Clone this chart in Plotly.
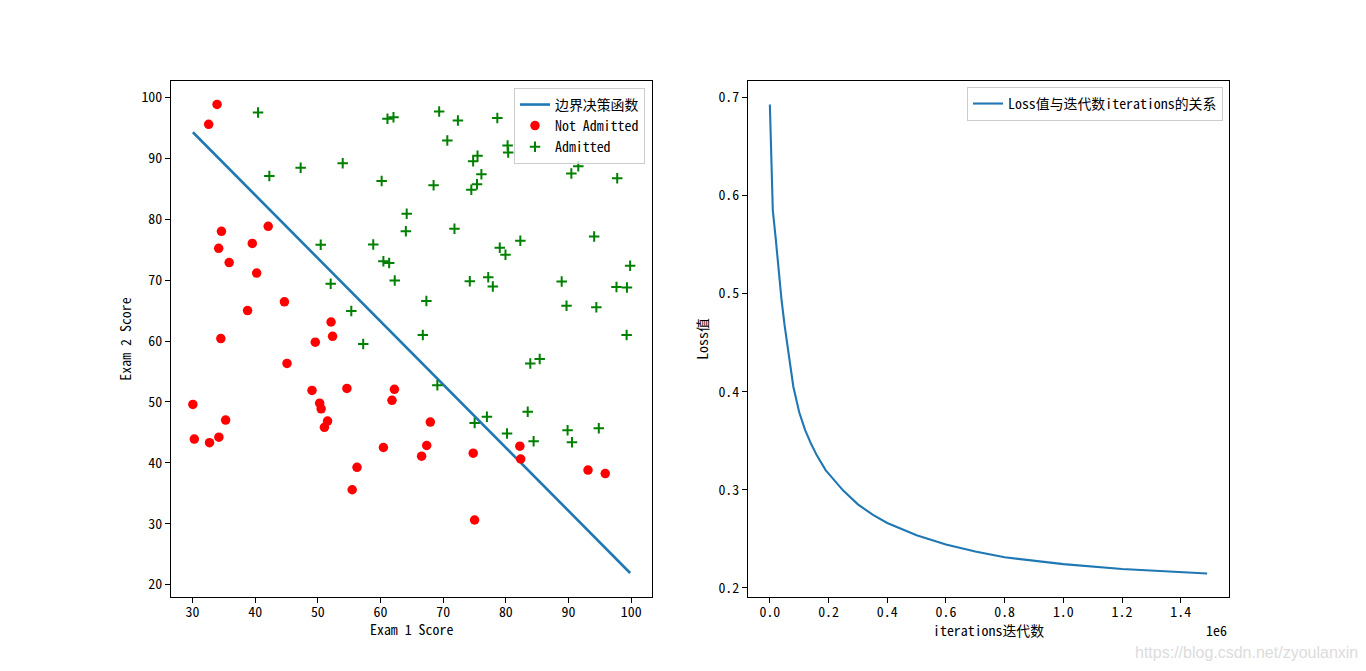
import plotly.graph_objects as go

# ---------------- data ----------------
exam1 = [34.62, 30.29, 35.85, 60.18, 79.03, 45.08, 61.11, 75.02, 76.10, 84.43,
         95.86, 75.01, 82.31, 69.36, 39.54, 53.97, 69.07, 67.95, 70.66, 76.98,
         67.37, 89.68, 50.53, 34.21, 77.92, 62.27, 80.19, 93.11, 61.83, 38.79,
         61.38, 85.40, 52.11, 52.05, 40.24, 54.64, 33.92, 64.18, 74.79, 34.18,
         83.90, 51.55, 94.44, 82.37, 51.05, 62.22, 77.19, 97.77, 62.07, 91.56,
         79.94, 99.27, 90.55, 34.52, 50.29, 49.59, 97.65, 32.58, 74.25, 71.80,
         75.40, 35.29, 56.25, 30.06, 44.67, 66.56, 40.46, 49.07, 80.28, 66.75,
         32.72, 64.04, 72.35, 60.46, 58.84, 99.83, 47.26, 50.46, 60.46, 82.23,
         88.91, 94.83, 67.32, 57.24, 80.37, 68.47, 42.08, 75.48, 78.64, 52.35,
         94.09, 90.45, 55.48, 74.49, 89.85, 83.49, 42.26, 99.32, 55.34, 74.78]
exam2 = [78.02, 43.89, 72.90, 86.31, 75.34, 56.32, 96.51, 46.55, 87.42, 43.53,
         38.23, 30.60, 76.48, 97.72, 76.04, 89.21, 52.74, 46.68, 92.93, 47.58,
         42.84, 65.80, 48.86, 44.21, 68.97, 69.95, 44.82, 38.80, 50.26, 65.00,
         72.81, 57.05, 63.13, 69.43, 71.17, 52.21, 98.87, 80.91, 41.57, 75.24,
         56.31, 46.86, 65.57, 40.62, 45.82, 52.06, 70.46, 86.73, 96.77, 88.70,
         74.16, 61.00, 43.39, 60.40, 49.80, 59.81, 68.86, 95.60, 69.82, 78.45,
         85.76, 47.02, 39.26, 49.59, 66.45, 41.09, 97.54, 51.88, 92.12, 60.99,
         43.31, 78.03, 96.23, 73.09, 75.86, 72.37, 88.48, 75.81, 42.51, 42.72,
         69.80, 45.69, 66.59, 59.51, 90.96, 85.59, 78.84, 90.42, 96.65, 60.77,
         77.16, 87.51, 35.57, 84.85, 45.36, 48.38, 87.10, 68.78, 64.93, 89.53]
admitted = [0, 0, 0, 1, 1, 0, 1, 1, 1, 1,
            0, 0, 1, 1, 0, 1, 1, 0, 1, 1,
            0, 1, 0, 0, 1, 1, 1, 0, 0, 0,
            1, 1, 0, 1, 0, 0, 0, 1, 0, 0,
            1, 0, 1, 0, 0, 0, 1, 1, 1, 1,
            1, 1, 1, 0, 0, 0, 1, 0, 1, 1,
            1, 0, 0, 0, 0, 0, 1, 0, 1, 1,
            0, 1, 1, 1, 1, 1, 1, 1, 0, 0,
            1, 1, 1, 1, 1, 1, 0, 1, 1, 0,
            1, 1, 0, 1, 1, 1, 1, 1, 1, 1]

boundary_x = [30.06, 99.83]
boundary_y = [94.3, 21.9]

iterations = [0, 10000, 20000, 30000, 40000, 50000, 60000, 70000, 80000, 100000,
              120000, 140000, 160000, 190000, 220000, 250000, 300000, 350000,
              400000, 500000, 600000, 700000, 800000, 1000000, 1200000,
              1400000, 1490000]
loss = [0.693, 0.585, 0.556, 0.523, 0.493, 0.468, 0.446, 0.425, 0.405, 0.379,
        0.361, 0.347, 0.335, 0.320, 0.309, 0.299, 0.285, 0.2745,
        0.266, 0.2535, 0.244, 0.237, 0.231, 0.224, 0.219,
        0.216, 0.2144]

left_xticks = [30, 40, 50, 60, 70, 80, 90, 100]
left_yticks = [20, 30, 40, 50, 60, 70, 80, 90, 100]
right_yticks = [0.2, 0.3, 0.4, 0.5, 0.6, 0.7]
right_ytext = ["0.2", "0.3", "0.4", "0.5", "0.6", "0.7"]
right_xticks = [0, 200000, 400000, 600000, 800000, 1000000, 1200000, 1400000]
right_xtext = ["0.0", "0.2", "0.4", "0.6", "0.8", "1.0", "1.2", "1.4"]

# ---------------- figure ----------------
FONT = "Noto Sans Mono CJK SC, SimHei, Noto Sans CJK SC, DejaVu Sans Mono"
FS = 13.9
W, H = 1358, 663

neg_x = [x for x, a in zip(exam1, admitted) if a == 0]
neg_y = [y for y, a in zip(exam2, admitted) if a == 0]
pos_x = [x for x, a in zip(exam1, admitted) if a == 1]
pos_y = [y for y, a in zip(exam2, admitted) if a == 1]

fig = go.Figure()
fig.add_trace(go.Scatter(x=boundary_x, y=boundary_y, mode="lines",
                         line=dict(color="#1f77b4", width=2.6),
                         name="边界决策函数", xaxis="x", yaxis="y", legend="legend"))
fig.add_trace(go.Scatter(x=neg_x, y=neg_y, mode="markers",
                         marker=dict(color="red", size=9.5, symbol="circle"),
                         name="Not Admitted", xaxis="x", yaxis="y", legend="legend"))
fig.add_trace(go.Scatter(x=pos_x, y=pos_y, mode="markers",
                         marker=dict(color="green", size=7.5, symbol="cross-thin",
                                     line=dict(color="green", width=2)),
                         name="Admitted", xaxis="x", yaxis="y", legend="legend"))
fig.add_trace(go.Scatter(x=iterations, y=loss, mode="lines",
                         line=dict(color="#1f77b4", width=2.1),
                         name="Loss值与迭代数iterations的关系",
                         xaxis="x2", yaxis="y2", legend="legend2"))

axis_common = dict(showline=True, mirror=True, linecolor="black", linewidth=1,
                   ticks="outside", ticklen=5, tickwidth=1, tickcolor="black",
                   showgrid=False, zeroline=False,
                   tickfont=dict(family=FONT, size=FS, color="black"))

fig.update_layout(
    width=W, height=H,
    margin=dict(l=0, r=0, t=0, b=0),
    paper_bgcolor="white", plot_bgcolor="white",
    font=dict(family=FONT, size=FS, color="black"),
    xaxis=dict(domain=[163 / W, 644 / W], range=[26.57, 103.32], anchor="y",
               tickvals=left_xticks, ticklabelstandoff=-3,
               **axis_common),
    yaxis=dict(domain=[1 - 589 / H, 1 - 73 / H], range=[17.95, 102.72], anchor="x",
               tickvals=left_yticks,
               title=dict(text="Exam 2 Score", standoff=6,
                          font=dict(family=FONT, size=FS)),
               **axis_common),
    xaxis2=dict(domain=[740 / W, 1221 / W], range=[-74500, 1564500], anchor="y2",
                tickvals=right_xticks, ticktext=right_xtext, ticklabelstandoff=-3,
                **axis_common),
    yaxis2=dict(domain=[1 - 589 / H, 1 - 73 / H], range=[0.1905, 0.7169], anchor="x2",
                tickvals=right_yticks, ticktext=right_ytext,
                title=dict(text="Loss值", standoff=6,
                           font=dict(family=FONT, size=FS)),
                **axis_common),
    legend=dict(x=637 / W, y=1 - 80 / H, xanchor="right", yanchor="top",
                bgcolor="rgba(255,255,255,0.8)", bordercolor="#cccccc",
                borderwidth=1, font=dict(family=FONT, size=FS),
                tracegroupgap=0, itemwidth=30),
    legend2=dict(x=1215 / W, y=1 - 79 / H, xanchor="right", yanchor="top",
                 bgcolor="rgba(255,255,255,0.8)", bordercolor="#cccccc",
                 borderwidth=1, font=dict(family=FONT, size=FS), itemwidth=30),
    annotations=[
        dict(text="Exam 1 Score", xref="paper", yref="paper",
             x=(163 + 644) / 2 / W, y=1 - 621 / H,
             xanchor="center", yanchor="middle", showarrow=False,
             font=dict(family=FONT, size=FS, color="black")),
        dict(text="iterations迭代数", xref="paper", yref="paper",
             x=(740 + 1221) / 2 / W, y=1 - 622 / H,
             xanchor="center", yanchor="middle", showarrow=False,
             font=dict(family=FONT, size=FS, color="black")),
        dict(text="1e6", xref="paper", yref="paper", x=1221 / W, y=1 - 610 / H,
             xanchor="right", yanchor="top", showarrow=False,
             font=dict(family=FONT, size=FS, color="black")),
        dict(text="https://blog.csdn.net/zyoulanxin", xref="paper", yref="paper",
             x=1352 / W, y=1 - 644 / H, xanchor="right", yanchor="middle",
             showarrow=False,
             font=dict(family="Liberation Sans, Arial", size=16, color="#dcdcdc")),
    ],
)

fig.write_html("out.html")
